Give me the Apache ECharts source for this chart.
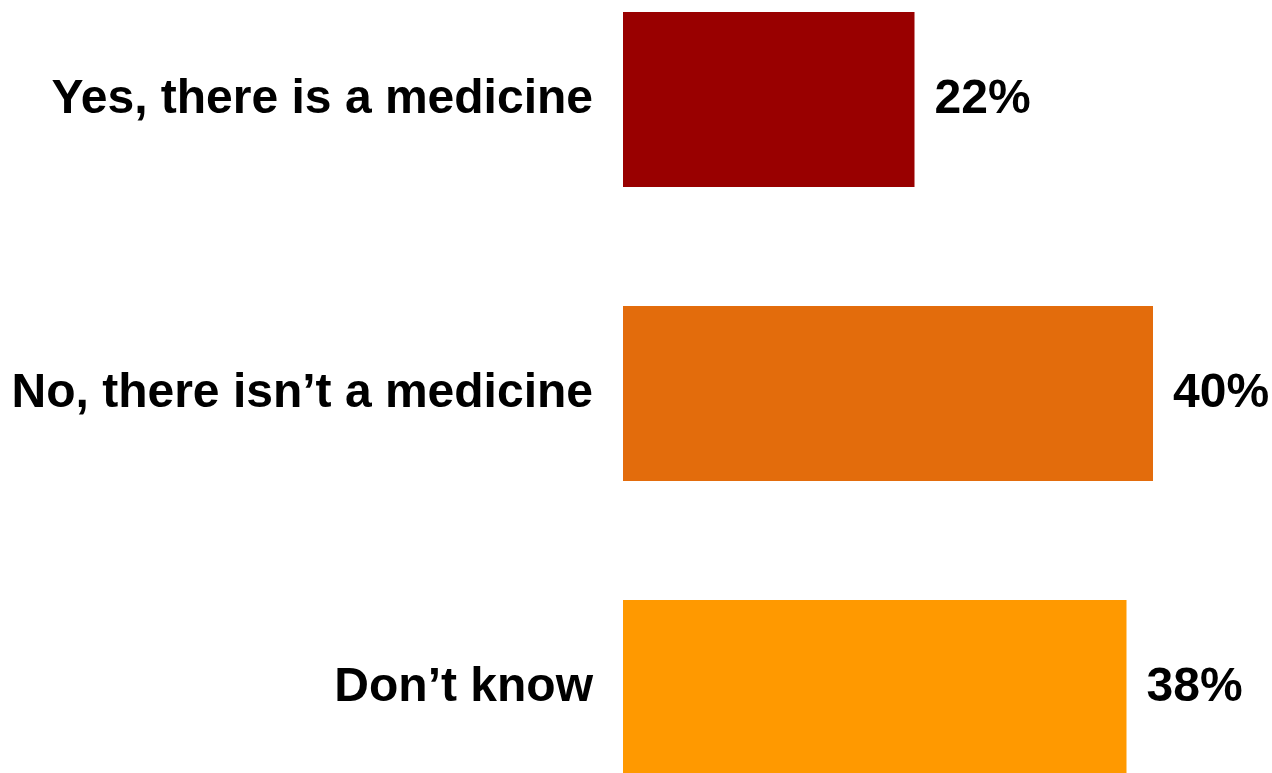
<!DOCTYPE html>
<html>
<head>
<meta charset="utf-8">
<style>html,body{margin:0;padding:0;background:#fff;}#c{width:1272px;height:773px;}</style>
<script src="https://cdn.jsdelivr.net/npm/echarts@6/dist/echarts.min.js"></script>
</head>
<body>
<div id="c"></div>
<script>
var categories = ["Yes, there is a medicine", "No, there isn\u2019t a medicine", "Don\u2019t know"];
var values = [22, 40, 38];
var colors = ["#990000", "#E36C0C", "#FF9900"];

var chart = echarts.init(document.getElementById('c'), null, {renderer: 'canvas'});
chart.setOption({
  animation: false,
  grid: {left: 623, right: 119, top: 99.5, height: 588, containLabel: false},
  xAxis: {type: 'value', min: 0, max: 40, show: false},
  yAxis: {
    type: 'category', data: categories, inverse: true, boundaryGap: false,
    axisLine: {show: false}, axisTick: {show: false}, splitLine: {show: false},
    axisLabel: {margin: 30, color: '#000', fontFamily: 'Liberation Sans, Arial, sans-serif', fontWeight: 'bold', fontSize: 48}
  },
  series: [{
    type: 'bar', barWidth: 175,
    data: values.map(function (v, i) { return {value: v, itemStyle: {color: colors[i]}}; }),
    label: {show: true, position: 'right', distance: 20, formatter: '{c}%', color: '#000',
      fontFamily: 'Liberation Sans, Arial, sans-serif', fontWeight: 'bold', fontSize: 48}
  }]
});
</script>
</body>
</html>
